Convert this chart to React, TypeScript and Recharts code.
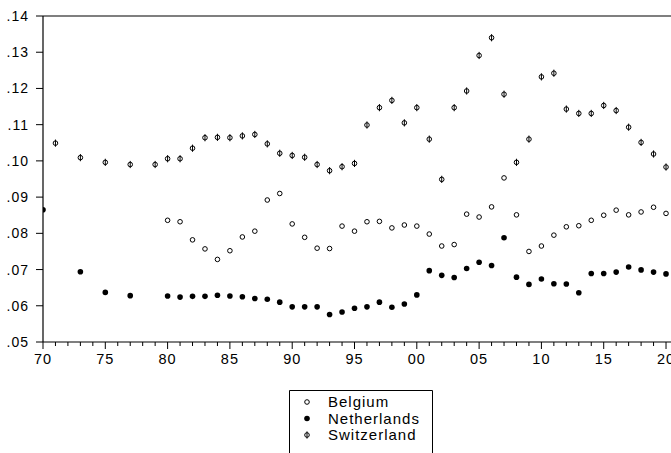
import { ScatterChart, Scatter, XAxis, YAxis, ReferenceLine } from "recharts";

// ten-year yields (share)
const belgiumYears = [
    1980, 1981, 1982, 1983, 1984, 1985, 1986, 1987, 1988, 1989,
    1990, 1991, 1992, 1993, 1994, 1995, 1996, 1997, 1998, 1999,
    2000, 2001, 2002, 2003, 2004, 2005, 2006, 2007, 2008, 2009,
    2010, 2011, 2012, 2013, 2014, 2015, 2016, 2017, 2018, 2019, 2020,
];
const belgiumValues = [
    0.0836, 0.0832, 0.0782, 0.0757, 0.0728, 0.0752, 0.079, 0.0806, 0.0892, 0.091,
    0.0826, 0.0789, 0.0759, 0.0758, 0.082, 0.0806, 0.0832, 0.0833, 0.0815, 0.0823,
    0.082, 0.0798, 0.0765, 0.0769, 0.0853, 0.0845, 0.0873, 0.0953, 0.0851, 0.075,
    0.0765, 0.0795, 0.0818, 0.0821, 0.0836, 0.085, 0.0864, 0.0851, 0.0859, 0.0872, 0.0855,
];

const netherlandsYears = [
    1970, 1973, 1975, 1977,
    1980, 1981, 1982, 1983, 1984, 1985, 1986, 1987, 1988, 1989,
    1990, 1991, 1992, 1993, 1994, 1995, 1996, 1997, 1998, 1999,
    2000, 2001, 2002, 2003, 2004, 2005, 2006, 2007, 2008, 2009,
    2010, 2011, 2012, 2013, 2014, 2015, 2016, 2017, 2018, 2019, 2020,
];
const netherlandsValues = [
    0.0865, 0.0694, 0.0637, 0.0628,
    0.0627, 0.0624, 0.0626, 0.0626, 0.0629, 0.0627, 0.0625, 0.062, 0.0618, 0.061,
    0.0597, 0.0597, 0.0597, 0.0576, 0.0583, 0.0593, 0.0597, 0.061, 0.0596, 0.0605,
    0.063, 0.0697, 0.0684, 0.0678, 0.0703, 0.072, 0.0711, 0.0788, 0.0679, 0.0659,
    0.0674, 0.0661, 0.066, 0.0636, 0.0689, 0.0689, 0.0693, 0.0707, 0.0699, 0.0693, 0.0688,
];

const switzerlandYears = [
    1971, 1973, 1975, 1977, 1979,
    1980, 1981, 1982, 1983, 1984, 1985, 1986, 1987, 1988, 1989,
    1990, 1991, 1992, 1993, 1994, 1995, 1996, 1997, 1998, 1999,
    2000, 2001, 2002, 2003, 2004, 2005, 2006, 2007, 2008, 2009,
    2010, 2011, 2012, 2013, 2014, 2015, 2016, 2017, 2018, 2019, 2020,
];
const switzerlandValues = [
    0.1049, 0.1009, 0.0996, 0.099, 0.099,
    0.1006, 0.1006, 0.1035, 0.1064, 0.1065, 0.1064, 0.1069, 0.1073, 0.1047, 0.1021,
    0.1015, 0.101, 0.099, 0.0973, 0.0984, 0.0993, 0.1099, 0.1147, 0.1167, 0.1105,
    0.1147, 0.106, 0.0949, 0.1147, 0.1193, 0.1291, 0.134, 0.1184, 0.0996, 0.106,
    0.1232, 0.1242, 0.1143, 0.1131, 0.1131, 0.1153, 0.1139, 0.1093, 0.1051, 0.1019, 0.0983,
];

const yTicks = [0.05, 0.06, 0.07, 0.08, 0.09, 0.1, 0.11, 0.12, 0.13, 0.14];
const xTicks: number[] = [];
for (let yr = 1970; yr <= 2020; yr++) xTicks.push(yr);

const FONT = "'Liberation Sans', Arial, sans-serif";

const toPoints = (years: number[], values: number[]) =>
    years.map((year, i) => ({ year, value: values[i] }));

const OpenDot = (p: any) => (
    <circle cx={p.cx} cy={p.cy} r={2.3} fill="#fff" stroke="#000" strokeWidth={1} />
);
const FilledDot = (p: any) => <circle cx={p.cx} cy={p.cy} r={2.8} fill="#000" />;
const SplitDot = (p: any) => (
    <g>
        <circle cx={p.cx} cy={p.cy} r={2.3} fill="#fff" stroke="#000" strokeWidth={1} />
        <line x1={p.cx} x2={p.cx} y1={p.cy - 3.6} y2={p.cy + 3.6} stroke="#000" strokeWidth={1} />
    </g>
);

// one tick every year, longer ones with a label every five
const YearTick = (props: any) => {
    const { x, y, payload } = props;
    const yr = payload.value as number;
    const major = yr % 5 === 0;
    return (
        <g>
            <line x1={x} x2={x} y1={y} y2={y + (major ? 7 : 4)} stroke="#000" strokeWidth={1} />
            {major && (
                <text x={x} y={y + 22} textAnchor="middle" fontSize={14.5} letterSpacing={1}
                    fontFamily={FONT} fill="#000">
                    {String(yr % 100).padStart(2, "0")}
                </text>
            )}
        </g>
    );
};

export default function App() {
    return (
        <div style={{ position: "absolute", left: 0, top: 0, width: 671, height: 453, overflow: "hidden", background: "#fff" }}>
            <ScatterChart width={671} height={453} margin={{ top: 16, right: 0, left: 0, bottom: 0 }}>
                <XAxis
                    type="number"
                    dataKey="year"
                    domain={[1970, 2020.4]}
                    ticks={xTicks}
                    interval={0}
                    height={111}
                    tickSize={0}
                    tickMargin={0}
                    tickLine={false}
                    tick={<YearTick />}
                    axisLine={{ stroke: "#000", strokeWidth: 1.2 }}
                    allowDataOverflow
                />
                <YAxis
                    type="number"
                    dataKey="value"
                    domain={[0.05, 0.14]}
                    ticks={yTicks}
                    interval={0}
                    width={43}
                    tickSize={7}
                    tickMargin={7}
                    tickLine={{ stroke: "#000" }}
                    axisLine={{ stroke: "#000", strokeWidth: 1.2 }}
                    tick={{ fontSize: 14, fill: "#000", fontFamily: FONT, letterSpacing: 1 }}
                    tickFormatter={(v: number) => v.toFixed(2).slice(1)}
                    allowDataOverflow
                />
                <ReferenceLine y={0.14} stroke="#000" strokeWidth={1.2} />
                <Scatter name="Belgium" data={toPoints(belgiumYears, belgiumValues)} shape={OpenDot} isAnimationActive={false} />
                <Scatter name="Netherlands" data={toPoints(netherlandsYears, netherlandsValues)} shape={FilledDot} isAnimationActive={false} />
                <Scatter name="Switzerland" data={toPoints(switzerlandYears, switzerlandValues)} shape={SplitDot} isAnimationActive={false} />
            </ScatterChart>

            <svg width={144} height={70} style={{ position: "absolute", left: 289, top: 390 }}>
                <polyline points="0.5,70 0.5,0.5 143.5,0.5 143.5,70" fill="none" stroke="#000" strokeWidth={1} />
                <OpenDot cx={18} cy={12} />
                <FilledDot cx={18} cy={28.5} />
                <SplitDot cx={18} cy={45} />
                {["Belgium", "Netherlands", "Switzerland"].map((name, i) => (
                    <text key={name} x={39} y={17 + i * 16.6} fontSize={15} letterSpacing={1}
                        fontFamily={FONT} fill="#000">
                        {name}
                    </text>
                ))}
            </svg>
        </div>
    );
}
